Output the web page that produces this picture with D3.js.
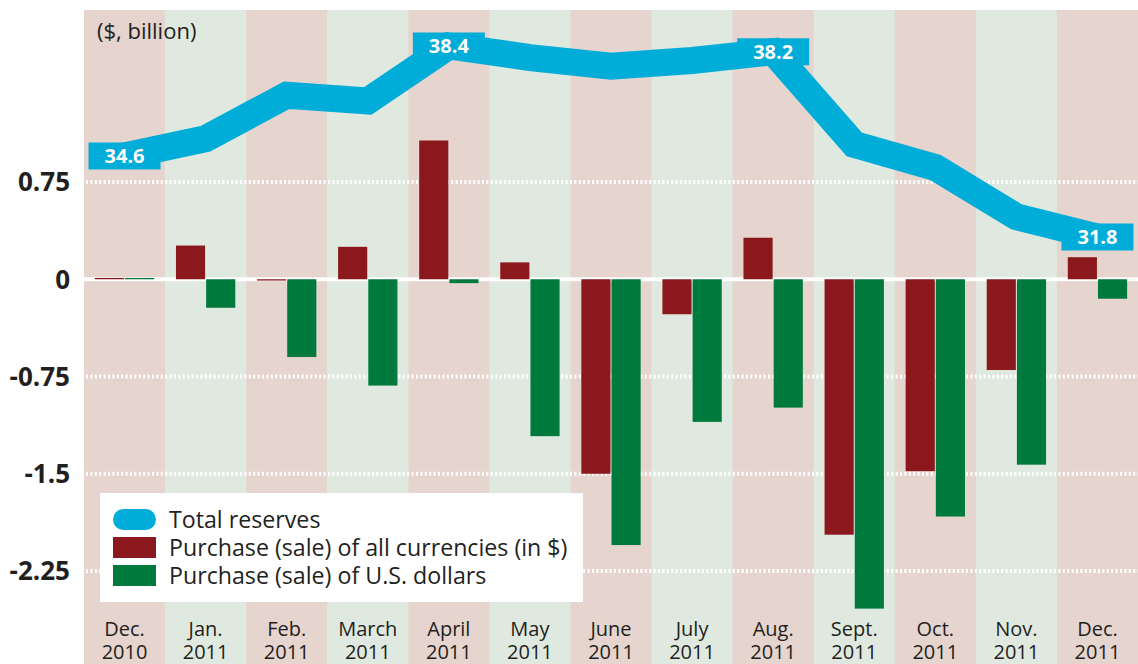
<!DOCTYPE html>
<html lang="en">
<head>
<meta charset="UTF-8">
<title>Reserves</title>
<script src="https://cdnjs.cloudflare.com/ajax/libs/d3/7.8.5/d3.min.js"></script>
<style>
  html, body { margin: 0; padding: 0; background: #fff; }
  svg { display: block; font-family: "Open Sans", "DejaVu Sans", sans-serif; }
</style>
</head>
<body>
<div id="wrapper"></div>
<script>
// month labels (two lines each)
const months = ['Dec.', 'Jan.', 'Feb.', 'March', 'April', 'May', 'June', 'July', 'Aug.', 'Sept.', 'Oct.', 'Nov.', 'Dec.']
const years = ['2010', '2011', '2011', '2011', '2011', '2011', '2011', '2011', '2011', '2011', '2011', '2011', '2011']
// purchase (sale) of all currencies, $ billion
const allCurrencies = [0.01, 0.26, -0.01, 0.25, 1.07, 0.13, -1.50, -0.27, 0.32, -1.97, -1.48, -0.70, 0.17]
// purchase (sale) of U.S. dollars, $ billion
const usDollars = [0.01, -0.22, -0.60, -0.82, -0.03, -1.21, -2.05, -1.10, -0.99, -2.54, -1.83, -1.43, -0.15]
// total reserves, $ billion
const totalReserves = [34.6, 35.2, 36.7, 36.5, 38.4, 38.0, 37.7, 37.9, 38.2, 35.0, 34.2, 32.5, 31.8]
const labelledPoints = [0, 4, 8, 12]
const yTicks = [0.75, 0, -0.75, -1.5, -2.25]

const width = 1138
const height = 664
const keys = months.map((m, i) => i)

const svg = d3.select('#wrapper').append('svg')
    .attr('width', width)
    .attr('height', height)

const x = d3.scaleBand()
    .domain(keys)
    .range([84, 1138])

const xSub = d3.scaleBand()
    .domain(['all', 'usd'])
    .range([0, x.bandwidth()])
    .paddingInner(0.035)
    .paddingOuter(0.36)

const y = d3.scaleLinear()
    .domain([-2.25, 0.75])
    .range([571, 182])

const yR = d3.scaleLinear()
    .domain([31.8, 38.4])
    .range([237, 46])

// alternating column backgrounds
svg.append('g').selectAll('rect')
    .data(keys)
    .join('rect')
    .attr('x', d => x(d))
    .attr('y', 10)
    .attr('width', x.bandwidth() + 0.5)
    .attr('height', height - 10)
    .attr('fill', d => d % 2 === 0 ? '#e6d4ce' : '#e0e9df')

// dotted grid lines
svg.append('g').selectAll('line')
    .data(yTicks.filter(t => t !== 0))
    .join('line')
    .attr('x1', 86)
    .attr('x2', width)
    .attr('y1', d => y(d))
    .attr('y2', d => y(d))
    .attr('stroke', '#fff')
    .attr('stroke-width', 4)
    .attr('stroke-dasharray', '2 2.4')

svg.append('line')
    .attr('x1', 84).attr('x2', width)
    .attr('y1', y(0)).attr('y2', y(0))
    .attr('stroke', '#fff')
    .attr('stroke-width', 4)

// y tick labels
svg.append('g').selectAll('text')
    .data(yTicks)
    .join('text')
    .attr('x', 70)
    .attr('y', d => y(d))
    .attr('dy', '0.36em')
    .attr('text-anchor', 'end')
    .attr('font-size', 26)
    .attr('font-weight', 'bold')
    .attr('fill', '#231f20')
    .text(d => String(d))

// bars
const bars = svg.append('g')
bars.selectAll('rect.all')
    .data(keys)
    .join('rect')
    .attr('class', 'all')
    .attr('x', d => x(d) + xSub('all'))
    .attr('width', xSub.bandwidth())
    .attr('y', d => y(Math.max(0, allCurrencies[d])))
    .attr('height', d => Math.abs(y(allCurrencies[d]) - y(0)))
    .attr('fill', '#8a181c')

bars.selectAll('rect.usd')
    .data(keys)
    .join('rect')
    .attr('class', 'usd')
    .attr('x', d => x(d) + xSub('usd'))
    .attr('width', xSub.bandwidth())
    .attr('y', d => y(Math.max(0, usDollars[d])))
    .attr('height', d => Math.abs(y(usDollars[d]) - y(0)))
    .attr('fill', '#007a3c')

// total reserves line
const line = d3.line()
    .x(d => x(d) + x.bandwidth() / 2)
    .y(d => yR(totalReserves[d]))

svg.append('path')
    .attr('d', line(keys))
    .attr('fill', 'none')
    .attr('stroke', '#00acd8')
    .attr('stroke-width', 27)
    .attr('stroke-linejoin', 'miter')

const tags = svg.append('g').selectAll('g')
    .data(labelledPoints)
    .join('g')
    .attr('transform', d => `translate(${x(d) + x.bandwidth() / 2},${yR(totalReserves[d])})`)

tags.append('rect')
    .attr('x', -36)
    .attr('y', -13.5)
    .attr('width', 72)
    .attr('height', 27)
    .attr('fill', '#00acd8')

tags.append('text')
    .attr('text-anchor', 'middle')
    .attr('dy', '0.36em')
    .attr('font-size', 20)
    .attr('font-weight', 'bold')
    .attr('fill', '#fff')
    .text(d => totalReserves[d].toFixed(1))

// unit note
svg.append('text')
    .attr('x', 97)
    .attr('y', 39)
    .attr('font-size', 22)
    .attr('fill', '#231f20')
    .text('($, billion)')

// x labels
const xl = svg.append('g').selectAll('text')
    .data(keys)
    .join('text')
    .attr('x', d => x(d) + x.bandwidth() / 2)
    .attr('text-anchor', 'middle')
    .attr('font-size', 20)
    .attr('fill', '#231f20')
xl.append('tspan').attr('x', d => x(d) + x.bandwidth() / 2).attr('y', 636).text(d => months[d])
xl.append('tspan').attr('x', d => x(d) + x.bandwidth() / 2).attr('y', 659).text(d => years[d])

// legend
const legend = svg.append('g')
legend.append('rect')
    .attr('x', 100).attr('y', 493)
    .attr('width', 483).attr('height', 109)
    .attr('fill', '#fff')

const legendItems = [
    { label: 'Total reserves', color: '#00acd8', pill: true },
    { label: 'Purchase (sale) of all currencies (in $)', color: '#8a181c' },
    { label: 'Purchase (sale) of U.S. dollars', color: '#007a3c' }
]
const li = legend.selectAll('g')
    .data(legendItems)
    .join('g')
    .attr('transform', (d, i) => `translate(113,${509 + i * 28})`)
li.append('rect')
    .attr('width', 43)
    .attr('height', 21)
    .attr('rx', d => d.pill ? 10.5 : 0)
    .attr('fill', d => d.color)
li.append('text')
    .attr('x', 56)
    .attr('y', 10.5)
    .attr('dy', '0.36em')
    .attr('font-size', 23.2)
    .attr('fill', '#231f20')
    .text(d => d.label)
</script>
</body>
</html>
